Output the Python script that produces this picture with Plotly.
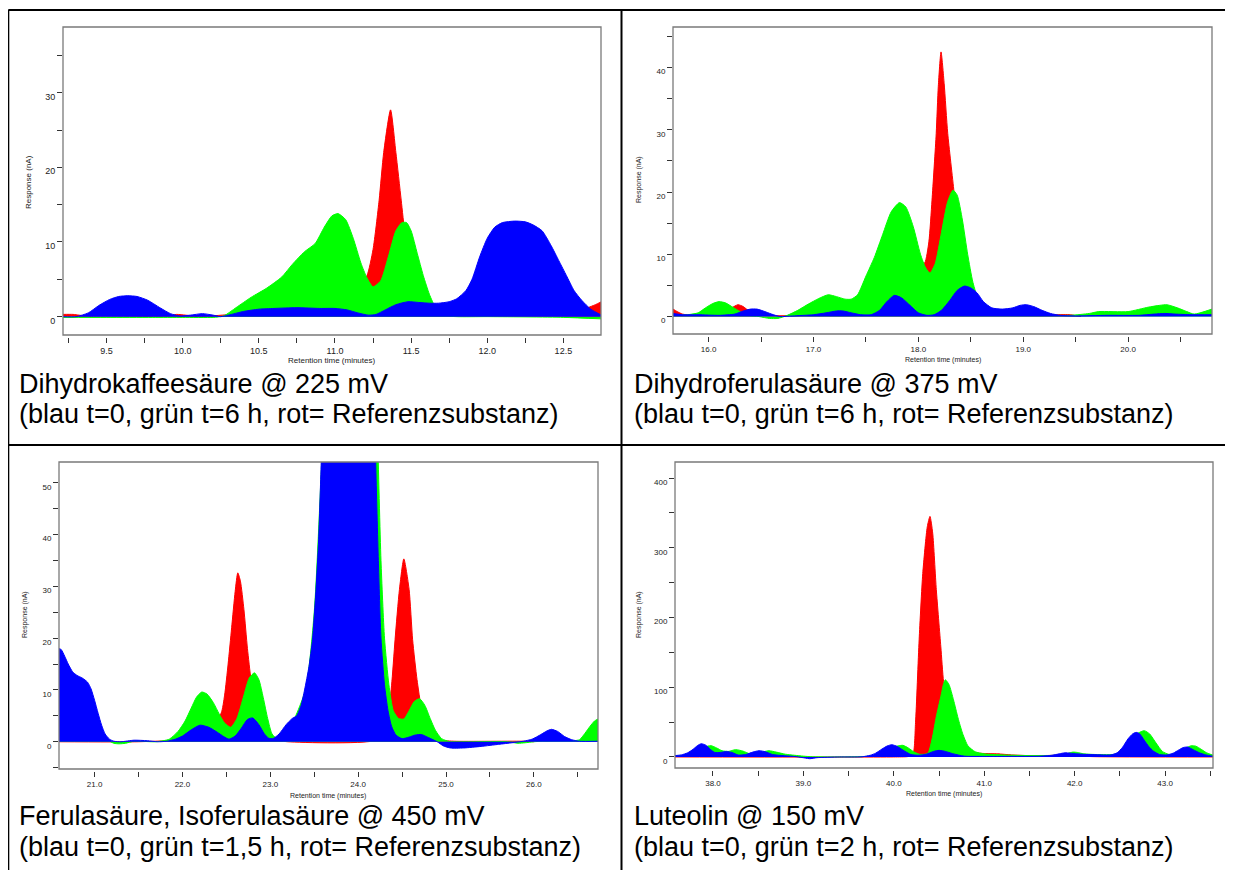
import plotly.graph_objects as go

PAGE_OFF = 8            # default body margin of the html page
W, H = 1233 - PAGE_OFF, 870 - PAGE_OFF
RED, GREEN, BLUE = "#ff0000", "#00ff00", "#0000ff"

# ---------------- Panel 1: Dihydrokaffeesäure ----------------
p1_blue_x = [9.21, 9.3, 9.38, 9.45, 9.52, 9.58, 9.64, 9.7, 9.77, 9.85, 9.92, 9.98, 10.05, 10.13, 10.2,
             10.25, 10.3, 10.4, 10.5, 10.6, 10.75, 10.9, 11.0, 11.08, 11.15, 11.22, 11.27, 11.33, 11.4,
             11.48, 11.55, 11.62, 11.68, 11.75, 11.8, 11.86, 11.9, 11.95, 12.0, 12.05, 12.1, 12.18, 12.25,
             12.3, 12.36, 12.42, 12.47, 12.52, 12.57, 12.62, 12.68, 12.75]
p1_blue_y = [0.0, 0.0, 0.5, 1.5, 2.3, 2.7, 2.8, 2.7, 2.2, 1.2, 0.4, 0.1, 0.2, 0.4, 0.2,
             0.0, 0.2, 0.7, 1.0, 1.1, 1.2, 1.1, 1.1, 0.9, 0.5, 0.2, 0.3, 0.9, 1.6,
             2.0, 1.9, 1.8, 1.8, 2.0, 2.4, 3.5, 5.0, 8.0, 10.5, 12.0, 12.6, 12.8, 12.7,
             12.3, 11.5, 9.5, 7.5, 5.5, 3.5, 2.2, 1.0, 0.2]
p1_green_x = [9.21, 9.5, 9.8, 10.0, 10.2, 10.27, 10.35, 10.45, 10.55, 10.65, 10.72, 10.8, 10.87, 10.93,
              10.98, 11.02, 11.07, 11.12, 11.17, 11.21, 11.25, 11.3, 11.35, 11.4, 11.44, 11.47, 11.5,
              11.54, 11.58, 11.62, 11.66, 11.7, 11.8, 12.0, 12.5, 12.75]
p1_green_y = [-0.1, -0.1, -0.1, -0.1, -0.1, 0.1, 1.2, 2.6, 3.8, 5.3, 7.0, 8.7, 9.8, 12.0,
              13.5, 13.8, 13.0, 10.5, 7.2, 5.2, 4.0, 4.8, 8.0, 11.5, 12.6, 12.6, 11.5,
              8.5, 5.5, 3.0, 1.2, 0.2, 0.0, 0.0, -0.1, -0.3]
p1_red_x = [9.21, 9.28, 9.32, 9.4, 9.9, 9.96, 10.02, 10.1, 11.0, 11.1, 11.17, 11.21, 11.25, 11.29,
            11.32, 11.365, 11.4, 11.435, 11.46, 11.5, 11.55, 11.62, 11.7, 12.5, 12.6, 12.66, 12.71, 12.75]
p1_red_y = [0.3, 0.3, 0.2, 0.0, 0.1, 0.3, 0.2, 0.0, 2.0, 3.5, 4.6, 5.5, 9.0, 15.6,
            22.0, 27.7, 22.0, 15.6, 11.0, 6.0, 2.5, 0.8, 0.3, 0.3, 0.8, 1.2, 1.6, 2.0]
p1_xticks = [9.25, 9.5, 9.75, 10.0, 10.25, 10.5, 10.75, 11.0, 11.25, 11.5, 11.75, 12.0, 12.25, 12.5, 12.75]
p1_xlabels = ["", "9.5", "", "10.0", "", "10.5", "", "11.0", "", "11.5", "", "12.0", "", "12.5", ""]
p1_yticks = [0, 5, 10, 15, 20, 25, 30, 35]
p1_ylabels = ["0", "", "10", "", "20", "", "30", ""]
p1_caption = ["Dihydrokaffeesäure @ 225 mV", "(blau t=0, grün t=6 h, rot= Referenzsubstanz)"]

# ---------------- Panel 2: Dihydroferulasäure ----------------
p2_blue_x = [15.66, 15.75, 15.9, 16.1, 16.25, 16.33, 16.4, 16.46, 16.52, 16.6, 16.68, 16.8, 17.0, 17.12,
             17.22, 17.28, 17.36, 17.45, 17.55, 17.63, 17.7, 17.77, 17.84, 17.92, 18.0, 18.08, 18.15,
             18.22, 18.3, 18.37, 18.44, 18.5, 18.56, 18.62, 18.7, 18.8, 18.9, 18.97, 19.03, 19.1, 19.18,
             19.26, 19.35, 19.5, 19.8, 20.1, 20.25, 20.35, 20.45, 20.6, 20.8]
p2_blue_y = [0.5, 0.3, 0.3, 0.2, 0.4, 0.9, 1.2, 1.2, 0.9, 0.4, 0.0, 0.1, 0.3, 0.6,
             0.9, 0.9, 0.6, 0.3, 0.3, 1.0, 2.4, 3.4, 3.0, 1.8, 0.6, 0.2, 0.3,
             1.0, 2.6, 4.2, 4.9, 4.6, 3.8, 2.4, 1.4, 1.2, 1.4, 1.8, 1.9, 1.6, 1.0,
             0.5, 0.2, 0.1, 0.2, 0.2, 0.4, 0.5, 0.4, 0.3, 0.3]
p2_green_x = [15.66, 15.8, 15.9, 15.97, 16.04, 16.1, 16.16, 16.23, 16.3, 16.38, 16.48, 16.58, 16.66,
              16.75, 16.85, 16.95, 17.05, 17.14, 17.22, 17.3, 17.36, 17.42, 17.5, 17.58, 17.66, 17.74,
              17.82, 17.88, 17.95, 18.02, 18.07, 18.11, 18.16, 18.22, 18.28, 18.33, 18.37, 18.42, 18.47,
              18.52, 18.58, 18.7, 19.0, 19.3, 19.45, 19.63, 19.72, 20.0, 20.19, 20.3, 20.37, 20.47,
              20.56, 20.63, 20.8]
p2_green_y = [0.2, 0.3, 0.6, 1.4, 2.1, 2.4, 2.2, 1.5, 0.8, 0.2, 0.0, -0.3, -0.3,
              0.2, 1.0, 2.0, 2.9, 3.5, 3.2, 2.8, 2.8, 3.5, 6.5, 9.5, 13.2, 16.8,
              18.3, 17.6, 14.5, 10.0, 7.8, 7.0, 8.5, 13.5, 18.5, 20.3, 19.5, 15.5, 10.0,
              5.5, 2.5, 0.8, 0.5, 0.2, 0.2, 0.5, 0.8, 0.8, 1.5, 1.8, 1.9, 1.4,
              0.8, 0.4, 1.2]
p2_red_x = [15.66, 15.7, 15.75, 15.85, 16.15, 16.22, 16.28, 16.33, 16.4, 16.5, 17.5, 17.7, 17.9, 18.0,
            18.06, 18.1, 18.13, 18.17, 18.19, 18.216, 18.246, 18.28, 18.34, 18.4, 18.45, 18.5, 18.6,
            19.3, 19.45, 19.55]
p2_red_y = [1.2, 0.8, 0.4, 0.2, 0.6, 1.4, 1.9, 1.6, 0.7, 0.2, 1.0, 4.0, 7.0, 8.0,
            8.6, 12.0, 18.7, 29.4, 37.0, 42.5, 37.4, 29.4, 20.0, 10.0, 5.0, 2.5, 0.8,
            0.3, 0.3, 0.0]
p2_xticks = [16.0, 16.5, 17.0, 17.5, 18.0, 18.5, 19.0, 19.5, 20.0, 20.5]
p2_xlabels = ["16.0", "", "17.0", "", "18.0", "", "19.0", "", "20.0", ""]
p2_yticks = [0, 5, 10, 15, 20, 25, 30, 35, 40, 45]
p2_ylabels = ["0", "", "10", "", "20", "", "30", "", "40", ""]
p2_caption = ["Dihydroferulasäure @ 375 mV", "(blau t=0, grün t=6 h, rot= Referenzsubstanz)"]

# ---------------- Panel 3: Ferulasäure, Isoferulasäure ----------------
p3_blue_x = [20.59, 20.62, 20.66, 20.7, 20.75, 20.8, 20.86, 20.92, 20.96, 21.0, 21.04, 21.08, 21.12,
             21.17, 21.22, 21.3, 21.45, 21.6, 21.72, 21.82, 21.92, 22.0, 22.1, 22.2, 22.3, 22.4, 22.47,
             22.53, 22.6, 22.67, 22.74, 22.8, 22.87, 22.93, 22.98, 23.03, 23.1, 23.18, 23.25, 23.3,
             23.35, 23.39, 23.44, 23.48, 23.52, 23.55, 23.58, 23.62, 23.7, 23.9, 24.05, 24.15, 24.2,
             24.23, 24.26, 24.3, 24.34, 24.38, 24.43, 24.5, 24.58, 24.65, 24.72, 24.8, 24.9, 24.97,
             25.05, 25.2, 25.4, 25.6, 25.75, 25.88, 25.98, 26.08, 26.15, 26.2, 26.27, 26.35, 26.43,
             26.52, 26.73]
p3_blue_y = [18.0, 17.8, 16.5, 15.0, 13.5, 12.8, 12.3, 11.5, 10.2, 8.0, 5.5, 3.2, 1.5,
             0.5, 0.1, 0.0, 0.3, 0.2, 0.0, 0.1, 0.5, 1.1, 2.3, 3.2, 2.8, 1.8, 1.0,
             0.5, 1.1, 2.6, 4.3, 4.6, 3.3, 1.6, 0.7, 0.6, 1.5, 3.3, 4.5, 5.0,
             7.0, 10.0, 14.5, 19.7, 29.4, 39.0, 54.0, 75.0, 110.0, 130.0, 130.0, 110.0, 54.0,
             35.0, 20.0, 11.0, 6.0, 3.0, 1.3, 0.6, 0.9, 1.3, 1.4, 0.8, 0.0, -0.8,
             -1.2, -1.2, -0.9, -0.5, -0.2, 0.1, 0.5, 1.4, 2.1, 2.4, 2.0, 1.0, 0.4,
             0.1, 0.1]
p3_green_x = [20.59, 21.15, 21.22, 21.28, 21.35, 21.45, 21.7, 21.85, 21.95, 22.03, 22.1, 22.16, 22.22,
              22.28, 22.35, 22.42, 22.48, 22.55, 22.62, 22.7, 22.76, 22.82, 22.87, 22.92, 22.97, 23.02,
              23.08, 23.2, 23.4, 23.5, 23.6, 23.7, 24.0, 24.15, 24.22, 24.26, 24.3, 24.35, 24.4, 24.46,
              24.52, 24.58, 24.64, 24.7, 24.76, 24.82, 24.88, 24.95, 25.05, 25.3, 25.7, 25.82, 25.9,
              26.0, 26.3, 26.45, 26.52, 26.58, 26.64, 26.69, 26.73]
p3_green_y = [17.0, 0.4, -0.3, -0.4, -0.3, 0.1, 0.0, 0.5, 2.0, 4.0, 6.5, 8.6, 9.6,
              9.2, 7.6, 5.3, 3.6, 2.8, 4.5, 9.0, 12.3, 13.3, 12.0, 8.5, 4.5, 1.5,
              0.6, 2.0, 10.0, 25.0, 60.0, 100.0, 130.0, 110.0, 60.0, 35.0, 20.0, 11.0, 6.0, 4.5,
              4.4, 6.0, 7.8, 8.3, 7.0, 4.5, 2.2, 0.6, 0.0, 0.0, 0.0, -0.3, -0.2,
              0.0, 0.3, 0.2, 0.4, 1.6, 3.0, 4.0, 4.4]
p3_red_x = [20.59, 21.5, 22.0, 22.2, 22.35, 22.44, 22.48, 22.52, 22.56, 22.6, 22.63, 22.66, 22.7, 22.74,
            22.78, 22.83, 22.9, 23.0, 23.2, 24.25, 24.33, 24.38, 24.42, 24.47, 24.52, 24.58, 24.62,
            24.67, 24.72, 24.78, 24.86, 24.95, 25.1, 25.9, 26.0]
p3_red_y = [0.0, 0.0, 0.5, 2.0, 3.8, 5.5, 9.0, 15.0, 22.0, 29.0, 32.6, 31.0, 25.5, 18.0,
            12.0, 6.5, 2.5, 0.6, 0.0, 0.5, 4.0, 10.8, 19.7, 29.4, 35.3, 29.4, 19.7,
            12.0, 6.5, 3.0, 1.0, 0.3, 0.1, 0.1, 0.0]
p3_xticks = [21.0, 21.5, 22.0, 22.5, 23.0, 23.5, 24.0, 24.5, 25.0, 25.5, 26.0, 26.5]
p3_xlabels = ["21.0", "", "22.0", "", "23.0", "", "24.0", "", "25.0", "", "26.0", ""]
p3_yticks = [-5, 0, 5, 10, 15, 20, 25, 30, 35, 40, 45, 50]
p3_ylabels = ["", "0", "", "10", "", "20", "", "30", "", "40", "", "50"]
p3_caption = ["Ferulasäure, Isoferulasäure @ 450 mV", "(blau t=0, grün t=1,5 h, rot= Referenzsubstanz)"]

# ---------------- Panel 4: Luteolin ----------------
p4_blue_x = [37.58, 37.65, 37.72, 37.78, 37.83, 37.87, 37.92, 37.97, 38.02, 38.08, 38.15, 38.21, 38.28,
             38.36, 38.44, 38.51, 38.58, 38.66, 38.79, 38.92, 39.02, 39.07, 39.15, 39.4, 39.65, 39.74,
             39.8, 39.87, 39.93, 39.98, 40.04, 40.1, 40.19, 40.28, 40.36, 40.44, 40.5, 40.57, 40.65,
             40.78, 41.0, 41.3, 41.6, 41.75, 41.83, 41.89, 41.95, 42.02, 42.1, 42.2, 42.3, 42.4, 42.47,
             42.53, 42.59, 42.64, 42.68, 42.72, 42.77, 42.82, 42.87, 42.94, 43.02, 43.09, 43.15, 43.2,
             43.25, 43.31, 43.38, 43.45, 43.53]
p4_blue_y = [2.0, 3.0, 6.0, 11.0, 16.5, 19.0, 17.0, 11.0, 6.5, 6.5, 8.0, 6.5, 2.8,
             3.5, 7.0, 9.0, 7.5, 3.5, 1.8, 0.5, -1.5, -2.5, -1.0, 0.0, 0.3, 2.5,
             5.5, 11.5, 16.0, 17.5, 15.0, 10.0, 3.5, 2.5, 4.0, 8.0, 9.5, 8.0, 4.8,
             1.2, 0.8, 0.8, 1.0, 2.5, 4.5, 6.0, 5.5, 4.5, 3.8, 3.5, 3.0, 3.0, 6.0,
             14.0, 26.0, 33.0, 35.3, 33.0, 24.0, 15.0, 8.5, 3.5, 3.0, 5.5, 10.0, 13.5,
             14.3, 10.5, 6.0, 3.0, 1.0]
p4_green_x = [37.58, 37.7, 37.8, 37.88, 37.94, 37.98, 38.04, 38.1, 38.17, 38.25, 38.33, 38.42, 38.5,
              38.56, 38.62, 38.7, 38.8, 38.9, 39.0, 39.1, 39.6, 39.8, 39.9, 39.98, 40.05, 40.1, 40.16,
              40.22, 40.28, 40.34, 40.38, 40.43, 40.47, 40.52, 40.55, 40.57, 40.61, 40.66, 40.71,
              40.76, 40.82, 40.9, 41.0, 41.2, 41.5, 41.8, 41.92, 41.98, 42.03, 42.1, 42.25, 42.45,
              42.55, 42.63, 42.7, 42.77, 42.83, 42.9, 42.97, 43.05, 43.14, 43.22, 43.29, 43.34, 43.4,
              43.46, 43.53]
p4_green_y = [1.5, 2.5, 6.0, 12.0, 15.5, 16.2, 13.0, 9.0, 8.0, 10.5, 8.5, 4.0, 5.0,
              7.5, 9.0, 7.0, 4.0, 2.5, 1.2, 0.3, 0.3, 2.0, 6.0, 13.0, 16.0, 16.7, 13.0,
              7.5, 4.0, 4.0, 6.0, 30.0, 58.0, 87.0, 105.0, 110.7, 104.0, 82.0, 56.0,
              34.0, 16.0, 7.5, 4.5, 3.0, 2.0, 2.5, 5.0, 7.0, 6.5, 4.5, 3.5, 4.0,
              10.0, 24.0, 34.0, 37.7, 33.0, 20.0, 8.0, 3.5, 6.0, 12.0, 16.2, 15.5, 11.0,
              6.0, 2.5]
p4_red_x = [37.58, 40.0, 40.15, 40.21, 40.24, 40.28, 40.32, 40.37, 40.4, 40.43, 40.47, 40.52, 40.55,
            40.6, 40.66, 40.73, 40.8, 40.9, 41.0, 41.15, 41.3, 41.5, 41.8, 41.9, 42.0, 42.2, 43.53]
p4_red_y = [0.0, 0.0, 0.5, 3.0, 49.0, 168.0, 263.0, 330.0, 345.0, 321.0, 240.0, 158.0, 108.0,
            65.0, 35.0, 17.0, 9.0, 6.0, 5.0, 4.5, 3.0, 2.0, 2.5, 4.0, 2.0, 0.5, 0.0]
p4_xticks = [38.0, 38.5, 39.0, 39.5, 40.0, 40.5, 41.0, 41.5, 42.0, 42.5, 43.0, 43.5]
p4_xlabels = ["38.0", "", "39.0", "", "40.0", "", "41.0", "", "42.0", "", "43.0", ""]
p4_yticks = [0, 50, 100, 150, 200, 250, 300, 350, 400]
p4_ylabels = ["0", "", "100", "", "200", "", "300", "", "400"]
p4_caption = ["Luteolin @ 150 mV", "(blau t=0, grün t=2 h, rot= Referenzsubstanz)"]

x_title = "Retention time (minutes)"
y_title = "Response (nA)"

# ---------------- layout geometry (page pixels) ----------------
panels = [
    dict(box=(63, 27, 601, 335), xr=[9.214, 12.747], yr=[-2.46, 38.8],
         series=[(p1_red_x, p1_red_y, RED), (p1_green_x, p1_green_y, GREEN), (p1_blue_x, p1_blue_y, BLUE)],
         xt=(p1_xticks, p1_xlabels), yt=(p1_yticks, p1_ylabels), cap=p1_caption,
         capx=17, capy=(384, 414), ytx=28, yty=182, xtx=331, xty=360, tickfont=9, titlefont=8),
    dict(box=(673, 27, 1212, 334), xr=[15.66, 20.80], yr=[-2.8, 46.5],
         series=[(p2_red_x, p2_red_y, RED), (p2_green_x, p2_green_y, GREEN), (p2_blue_x, p2_blue_y, BLUE)],
         xt=(p2_xticks, p2_xlabels), yt=(p2_yticks, p2_ylabels), cap=p2_caption,
         capx=632, capy=(384, 414), ytx=639, yty=180, xtx=943, xty=360, tickfont=8, titlefont=7),
    dict(box=(59, 462, 598, 769), xr=[20.595, 26.73], yr=[-5.26, 54.0],
         series=[(p3_red_x, p3_red_y, RED), (p3_green_x, p3_green_y, GREEN), (p3_blue_x, p3_blue_y, BLUE)],
         xt=(p3_xticks, p3_xlabels), yt=(p3_yticks, p3_ylabels), cap=p3_caption,
         capx=17, capy=(816, 847), ytx=25, yty=615, xtx=328, xty=796, tickfont=8, titlefont=7),
    dict(box=(675, 462, 1213, 768), xr=[37.58, 43.53], yr=[-15.8, 423.0],
         series=[(p4_red_x, p4_red_y, RED), (p4_green_x, p4_green_y, GREEN), (p4_blue_x, p4_blue_y, BLUE)],
         xt=(p4_xticks, p4_xlabels), yt=(p4_yticks, p4_ylabels), cap=p4_caption,
         capx=632, capy=(816, 847), ytx=639, yty=615, xtx=944, xty=794, tickfont=8, titlefont=7),
]

def px(x):
    return (x - PAGE_OFF) / W

def py(y):
    return 1 - (y - PAGE_OFF) / H

fig = go.Figure()
layout = dict(width=W, height=H, margin=dict(l=0, r=0, t=0, b=0),
              paper_bgcolor="white", plot_bgcolor="white", showlegend=False, hovermode=False)
shapes, annotations = [], []
narrow = "Liberation Sans Narrow, Arial Narrow, Liberation Sans, Arial"
regular = "Liberation Sans, Arial"
BOXC = "#7a7a7a"

for i, p in enumerate(panels, start=1):
    xa = "x" if i == 1 else f"x{i}"
    ya = "y" if i == 1 else f"y{i}"
    for xs, ys, col in p["series"]:
        fig.add_trace(go.Scatter(x=xs, y=ys, mode="lines", fill="tozeroy", fillcolor=col,
                                 line=dict(color=col, width=1, shape="spline", smoothing=0.6),
                                 xaxis=xa, yaxis=ya, hoverinfo="skip"))
    x0, y0, x1, y1 = p["box"]
    tf = dict(family=regular if i == 1 else narrow, size=p["tickfont"], color="#222")
    layout["xaxis" if i == 1 else f"xaxis{i}"] = dict(
        domain=[px(x0), px(x1)], range=p["xr"], anchor="free", position=py(y1 + 2),
        showline=False, showgrid=False, zeroline=False, ticks="outside", ticklen=5,
        tickcolor="#333", tickwidth=1, tickmode="array", tickvals=p["xt"][0], ticktext=p["xt"][1],
        tickfont=tf, fixedrange=True)
    layout["yaxis" if i == 1 else f"yaxis{i}"] = dict(
        domain=[py(y1), py(y0)], range=p["yr"], anchor=xa,
        showline=False, showgrid=False, zeroline=False, ticks="outside", ticklen=5,
        tickcolor="#333", tickwidth=1, tickmode="array", tickvals=p["yt"][0], ticktext=p["yt"][1],
        tickfont=tf, ticklabelshift=4, ticklabelstandoff=0, fixedrange=True)
    shapes.append(dict(type="rect", xref=f"{xa} domain", yref=f"{ya} domain", x0=0, x1=1, y0=0, y1=1,
                       line=dict(color=BOXC, width=1.3), layer="above"))
    annotations.append(dict(text=x_title, x=px(p["xtx"]), y=py(p["xty"]), xref="paper", yref="paper",
                            showarrow=False, xanchor="center", yanchor="middle",
                            font=dict(family=narrow if i > 1 else regular, size=p["titlefont"], color="#222")))
    annotations.append(dict(text=y_title, x=px(p["ytx"]), y=py(p["yty"]), xref="paper", yref="paper",
                            showarrow=False, xanchor="center", yanchor="middle", textangle=-90,
                            font=dict(family=regular, size=p["titlefont"], color="#222")))
    for line, cy in zip(p["cap"], p["capy"]):
        annotations.append(dict(text=line, x=px(p["capx"]), y=py(cy), xref="paper", yref="paper",
                                showarrow=False, xanchor="left", yanchor="middle",
                                font=dict(family=regular, size=27, color="black")))

# table grid lines (page pixels)
grid = [((8.3, 10), (1233, 10)), ((8.3, 10), (8.3, 870)), ((621.5, 10), (621.5, 870)),
        ((8.3, 445), (1233, 445))]
for (a, b) in grid:
    shapes.append(dict(type="line", xref="paper", yref="paper", x0=px(a[0]), y0=py(a[1]),
                       x1=px(b[0]), y1=py(b[1]), line=dict(color="black", width=2)))

layout["shapes"] = shapes
layout["annotations"] = annotations
fig.update_layout(**layout)
fig.write_html("out.html")
